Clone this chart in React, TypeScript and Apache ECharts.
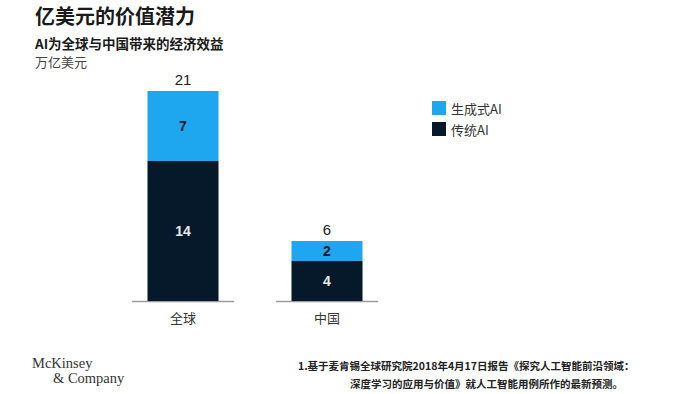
import React, { useEffect, useRef } from "react";
import * as echarts from "echarts";

const categories = ["全球", "中国"];
const traditionalAI = [14, 4];
const generativeAI = [7, 2];
const totals = categories.map((_, i) => traditionalAI[i] + generativeAI[i]);
const seriesNames = ["生成式AI", "传统AI"];

const LIGHT = "#1ea7ef";
const DARK = "#06192a";
const CJK = "'Noto Sans CJK SC', 'Liberation Sans', sans-serif";
const LATIN = "'Liberation Sans', Arial, sans-serif";

export default function App() {
  const ref = useRef<HTMLDivElement>(null);
  useEffect(() => {
    if (!ref.current) return;
    const chart = echarts.init(ref.current, null, { renderer: "svg" });
    chart.setOption({
      animation: false,
      backgroundColor: "#ffffff",
      grid: { left: 111, width: 288, top: 91, bottom: 93 },
      xAxis: {
        type: "category",
        data: categories,
        axisLine: { show: false },
        axisTick: { show: false },
        axisLabel: { margin: 10, fontSize: 13, color: "#333", fontFamily: CJK },
      },
      yAxis: { type: "value", min: 0, max: 21, show: false, splitLine: { show: false } },
      legend: {
        data: seriesNames,
        orient: "vertical",
        left: 427,
        top: 96,
        itemWidth: 14,
        itemHeight: 14,
        itemGap: 7,
        icon: "rect",
        textStyle: { fontSize: 13, color: "#333", fontFamily: CJK },
      },
      series: [
        {
          name: "传统AI",
          type: "bar",
          stack: "total",
          barWidth: 71,
          data: traditionalAI,
          itemStyle: { color: DARK },
          label: {
            show: true,
            position: "inside",
            color: "#e6e9ec",
            fontSize: 14,
            fontWeight: "bold",
            fontFamily: LATIN,
          },
        },
        {
          name: "生成式AI",
          type: "bar",
          stack: "total",
          barWidth: 71,
          data: generativeAI,
          itemStyle: { color: LIGHT },
          label: {
            show: true,
            position: "inside",
            color: DARK,
            fontSize: 14,
            fontWeight: "bold",
            fontFamily: LATIN,
          },
        },
        {
          name: "total",
          type: "bar",
          stack: "total",
          barWidth: 71,
          data: totals.map(() => 0),
          itemStyle: { color: "transparent" },
          label: {
            show: true,
            position: "top",
            distance: 4,
            formatter: (p: any) => String(totals[p.dataIndex]),
            color: "#222",
            fontSize: 15,
            fontFamily: LATIN,
          },
          tooltip: { show: false },
        },
        {
          name: "baseline",
          type: "custom",
          data: categories.map((_, i) => [i, 0]),
          encode: { x: 0, y: 1 },
          silent: true,
          renderItem: (params: any, api: any) => {
            const pt = api.coord([api.value(0), 0]);
            const half = api.size([1, 0])[0] * 0.355;
            return {
              type: "line",
              shape: { x1: pt[0] - half, y1: pt[1] + 0.5, x2: pt[0] + half, y2: pt[1] + 0.5 },
              style: { stroke: "#9a9a9a", lineWidth: 1.5 },
            };
          },
        },
      ],
      graphic: [
        {
          type: "text",
          left: 35,
          top: 4,
          style: { text: "亿美元的价值潜力", fontSize: 20, lineHeight: 22, fontWeight: "bold", fill: "#1a1a1a", fontFamily: CJK },
        },
        {
          type: "text",
          left: 35,
          top: 36,
          style: { text: "AI为全球与中国带来的经济效益", fontSize: 13.5, lineHeight: 14, fontWeight: "bold", fill: "#1a1a1a", fontFamily: CJK },
        },
        {
          type: "text",
          left: 35,
          top: 55,
          style: { text: "万亿美元", fontSize: 13, lineHeight: 13, fill: "#444", fontFamily: CJK },
        },
        {
          type: "text",
          left: 32,
          top: 355,
          style: { text: "McKinsey", fontSize: 14.5, lineHeight: 15, fill: "#333", fontFamily: "'Liberation Serif', serif" },
        },
        {
          type: "text",
          left: 53,
          top: 370,
          style: { text: "& Company", fontSize: 14.5, lineHeight: 15, fill: "#333", fontFamily: "'Liberation Serif', serif" },
        },
        {
          type: "text",
          left: 298,
          top: 359,
          style: {
            text: "1.基于麦肯锡全球研究院2018年4月17日报告《探究人工智能前沿领域：",
            fontSize: 10.5,
            lineHeight: 12,
            fontWeight: "bold",
            fill: "#222",
            fontFamily: CJK,
          },
        },
        {
          type: "text",
          right: 77,
          top: 377,
          style: {
            text: "深度学习的应用与价值》就人工智能用例所作的最新预测。",
            fontSize: 10.5,
            lineHeight: 12,
            fontWeight: "bold",
            fill: "#222",
            fontFamily: CJK,
          },
        },
      ],
    });
    return () => chart.dispose();
  }, []);
  return <div ref={ref} style={{ width: 700, height: 394, position: "absolute", left: 0, top: 0 }} />;
}
